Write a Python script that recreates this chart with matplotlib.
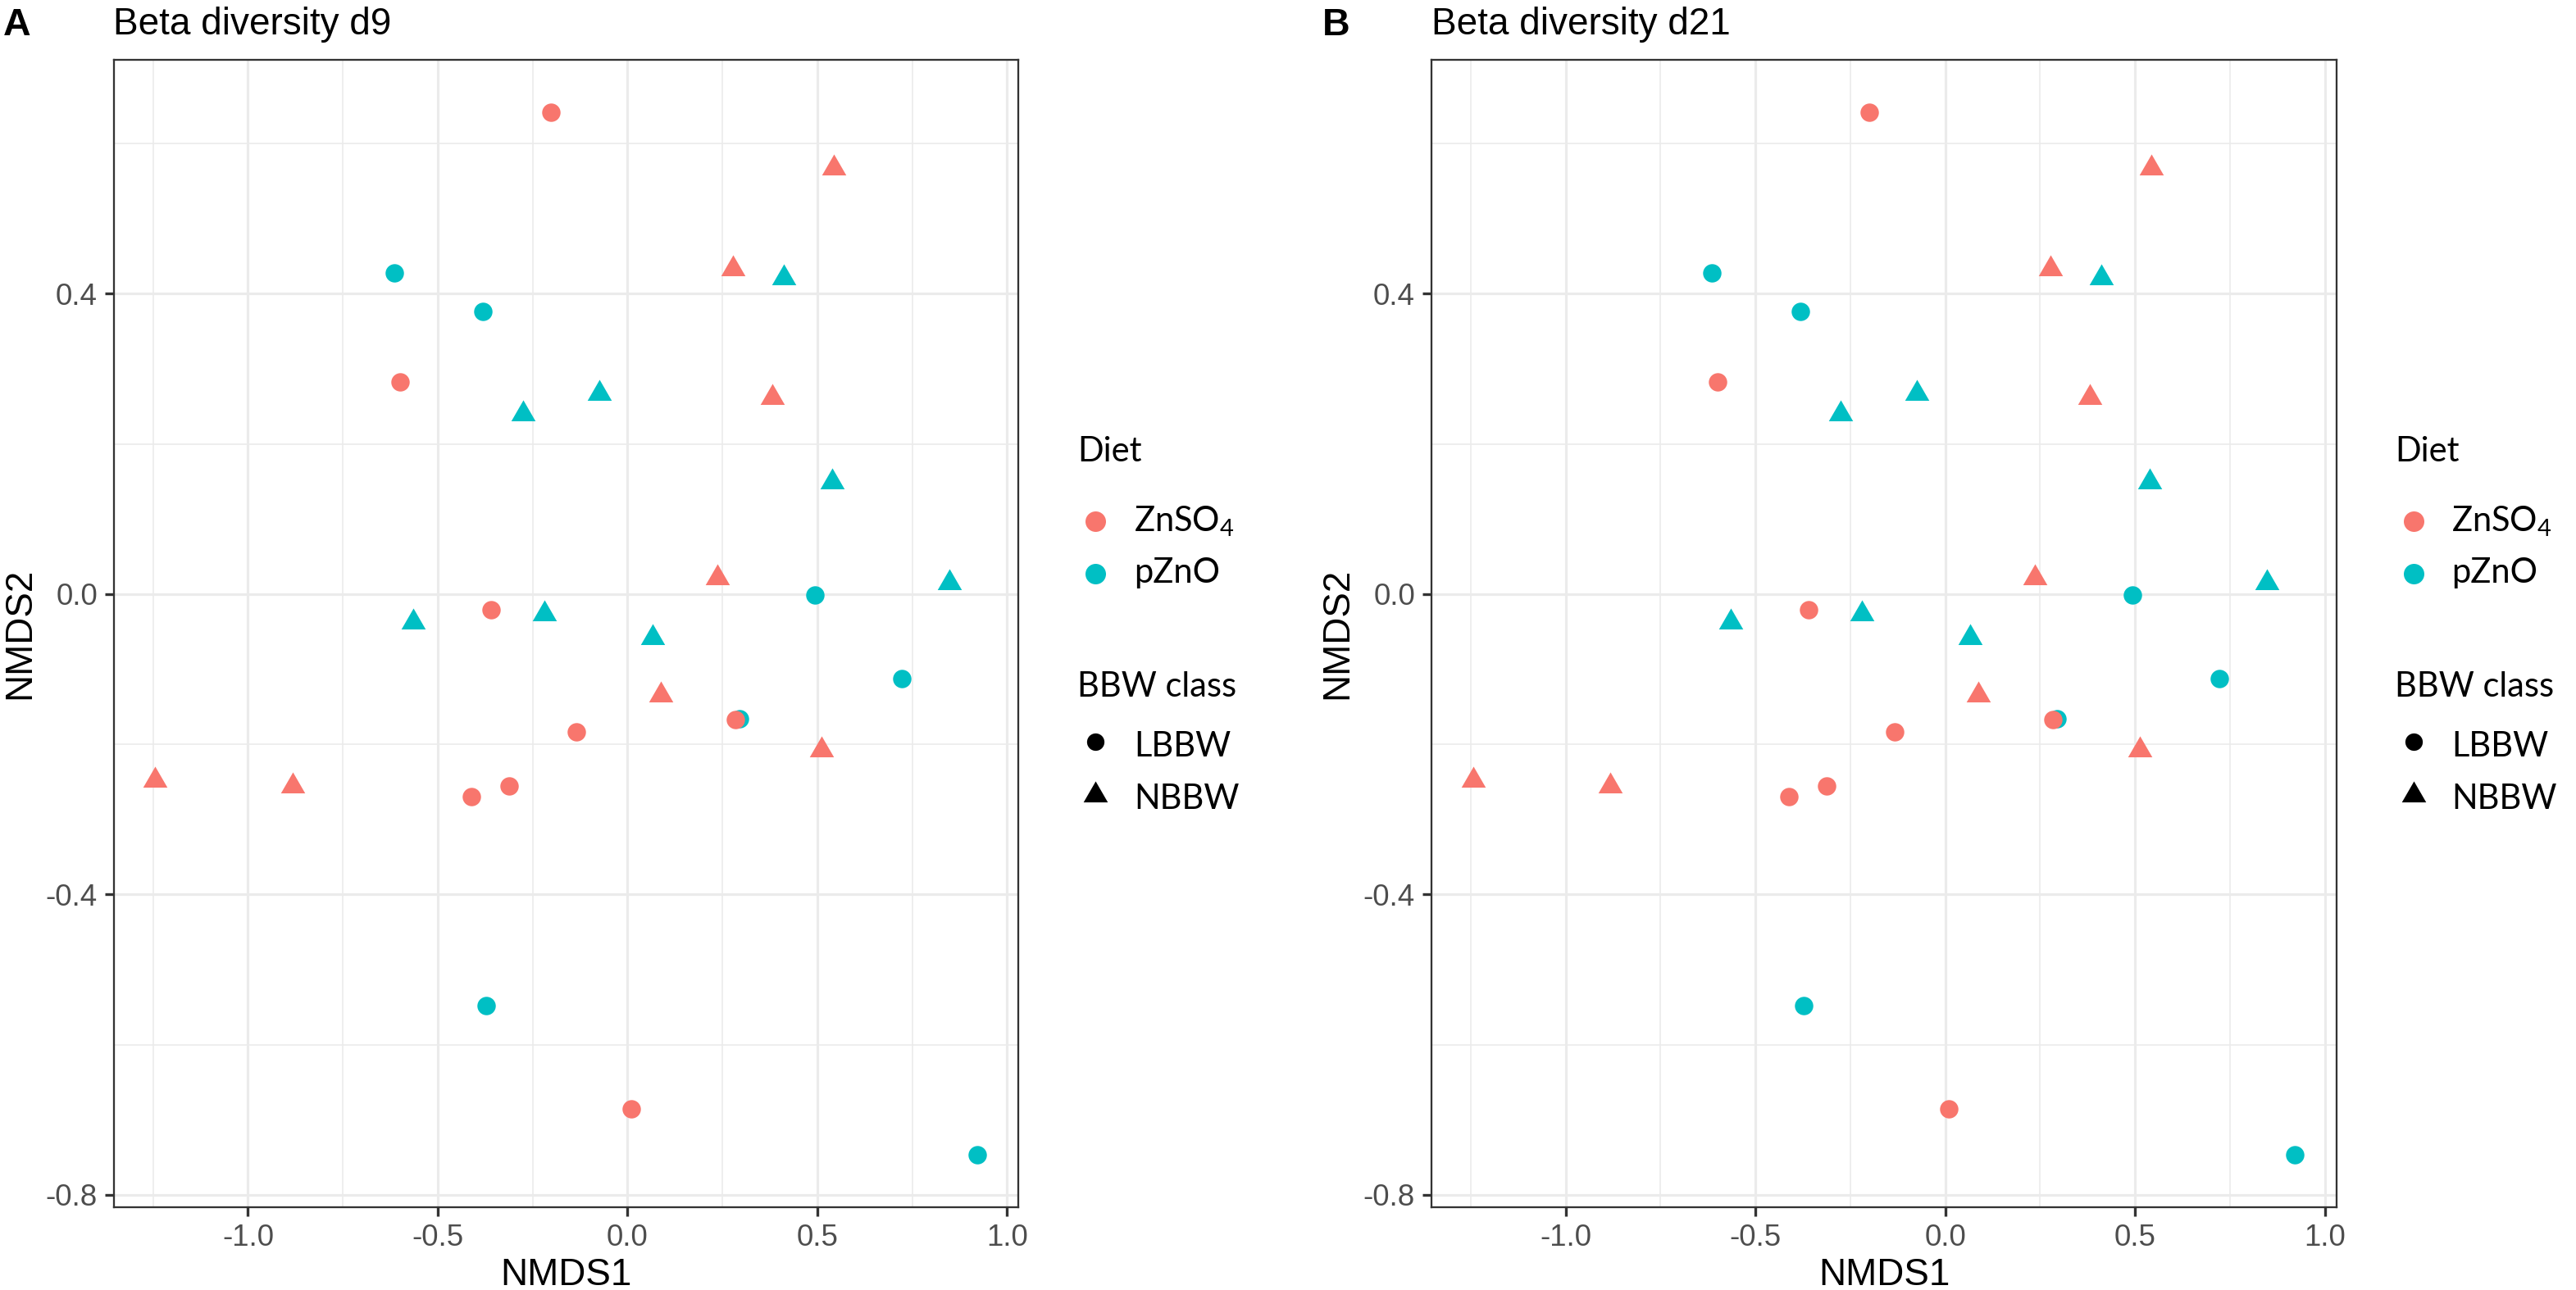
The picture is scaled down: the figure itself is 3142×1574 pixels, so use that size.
import numpy as np
import matplotlib.pyplot as plt
from matplotlib.lines import Line2D
from matplotlib.ticker import FormatStrFormatter

plt.rcParams['font.family'] = ['Liberation Sans', 'DejaVu Sans']
plt.rcParams['mathtext.fontset'] = 'custom'
plt.rcParams['mathtext.rm'] = 'Lato'
plt.rcParams['axes.unicode_minus'] = False

# NMDS scores (both panels show the same ordination)
nmds1 = [-0.201, -0.599, -0.360, -0.134, -0.412, -0.312, 0.284, 0.010,      # ZnSO4 / LBBW
         0.544, 0.277, 0.381, 0.236, 0.087, 0.512, -1.244, -0.882,          # ZnSO4 / NBBW
         -0.614, -0.381, 0.493, 0.722, 0.295, -0.373, 0.922,                # pZnO / LBBW
         0.412, -0.276, -0.075, 0.539, 0.848, -0.564, -0.219, 0.066]        # pZnO / NBBW
nmds2 = [0.642, 0.283, -0.021, -0.184, -0.270, -0.255, -0.167, -0.685,
         0.567, 0.433, 0.262, 0.022, -0.134, -0.207, -0.248, -0.255,
         0.428, 0.376, -0.001, -0.113, -0.166, -0.548, -0.747,
         0.421, 0.240, 0.267, 0.149, 0.015, -0.037, -0.026, -0.058]
diet = ['ZnSO4'] * 16 + ['pZnO'] * 15
bbw = ['LBBW'] * 8 + ['NBBW'] * 8 + ['LBBW'] * 7 + ['NBBW'] * 8

panel_titles = ['Beta diversity d9', 'Beta diversity d21']
panel_tags = ['A', 'B']
diet_levels = ['ZnSO4', 'pZnO']
diet_labels = ['ZnSO$_\\mathrm{4}$', 'pZnO']
bbw_levels = ['LBBW', 'NBBW']
x_major = [-1.0, -0.5, 0.0, 0.5, 1.0]
x_minor = [-1.25, -0.75, -0.25, 0.25, 0.75]
y_major = [-0.8, -0.4, 0.0, 0.4]
y_minor = [-0.6, -0.2, 0.2, 0.6]

colours = {'ZnSO4': '#F8766D', 'pZnO': '#00BFC4'}
# R style filled triangle, centred on its centroid
tri = [(0, 1), (0.866, -0.5), (-0.866, -0.5), (0, 1)]
shapes = {'LBBW': 'o', 'NBBW': tri}
sizes = {'LBBW': 29, 'NBBW': 67}

x = np.array(nmds1)
y = np.array(nmds2)
diet = np.array(diet)
bbw = np.array(bbw)

# ggplot style 5% expansion
xr = x.max() - x.min()
yr = y.max() - y.min()
xlim = (x.min() - 0.05 * xr, x.max() + 0.05 * xr)
ylim = (y.min() - 0.05 * yr, y.max() + 0.05 * yr)

W, H = 3142, 1574
fig = plt.figure(figsize=(W / 300, H / 300), dpi=300)

def fx(p):
    return p / W

def fy(p):
    return 1 - p / H

ax_lefts = [139.3, 1746.5]
ax_w = 1103.1
ax_top, ax_bot = 73, 1473
tag_x = [4, 1613]

for k in range(2):
    l = ax_lefts[k]
    ax = fig.add_axes([fx(l), fy(ax_bot), ax_w / W, (ax_bot - ax_top) / H])
    for d in ['pZnO', 'ZnSO4']:
        for b in bbw_levels:
            m = (diet == d) & (bbw == b)
            ax.scatter(x[m], y[m], s=sizes[b], marker=shapes[b], c=colours[d],
                       linewidths=0, zorder=3)
    ax.set_xlim(xlim)
    ax.set_ylim(ylim)
    ax.set_xticks(x_major)
    ax.set_xticks(x_minor, minor=True)
    ax.set_yticks(y_major)
    ax.set_yticks(y_minor, minor=True)
    ax.xaxis.set_major_formatter(FormatStrFormatter('%.1f'))
    ax.yaxis.set_major_formatter(FormatStrFormatter('%.1f'))
    ax.grid(which='major', color='#EBEBEB', lw=0.75)
    ax.grid(which='minor', color='#EBEBEB', lw=0.4)
    ax.set_axisbelow(True)
    ax.tick_params(which='major', length=2.6, width=0.8, color='#333333',
                   labelcolor='#4D4D4D', labelsize=8.8, pad=2.3)
    ax.tick_params(which='minor', length=0)
    for s in ax.spines.values():
        s.set_color('#333333')
        s.set_linewidth(0.55)
    ax.set_xlabel('NMDS1', fontsize=11)
    ax.set_ylabel('NMDS2', fontsize=11)
    ax.xaxis.set_label_coords(0.5, -0.0436)
    ax.yaxis.set_label_coords(-0.0848, 0.5)

    fig.text(fx(l - 1), fy(42), panel_titles[k], fontsize=11, va='baseline')
    fig.text(fx(tag_x[k]), fy(43), panel_tags[k], fontsize=11.2,
             fontweight='bold', va='baseline')

    # legends
    off = l - ax_lefts[0]
    kx = 1336.4 + off
    tx = 1383 + off
    fig.text(fx(1314 + off), fy(562.5), 'Diet', family='Lato', fontsize=10,
             va='baseline')
    for lab, lev, ky, by in zip(diet_labels, diet_levels, [635.7, 700], [648, 711]):
        fig.add_artist(Line2D([fx(kx)], [fy(ky)], transform=fig.transFigure,
                              marker='o', ms=6, mfc=colours[lev], mec='none', ls='none'))
        fig.text(fx(tx), fy(by), lab, family='Lato', fontsize=10, va='baseline')
    fig.text(fx(1314 + off), fy(850), 'BBW class', family='Lato', fontsize=10,
             va='baseline')
    for lev, ky, by, ms in zip(bbw_levels, [905, 970], [923, 987], [5.1, 8.2]):
        fig.add_artist(Line2D([fx(kx)], [fy(ky)], transform=fig.transFigure,
                              marker=shapes[lev], ms=ms, mfc='black', mec='none', ls='none'))
        fig.text(fx(tx), fy(by), lev, family='Lato', fontsize=10, va='baseline')

fig.savefig('out.png', dpi=300)
